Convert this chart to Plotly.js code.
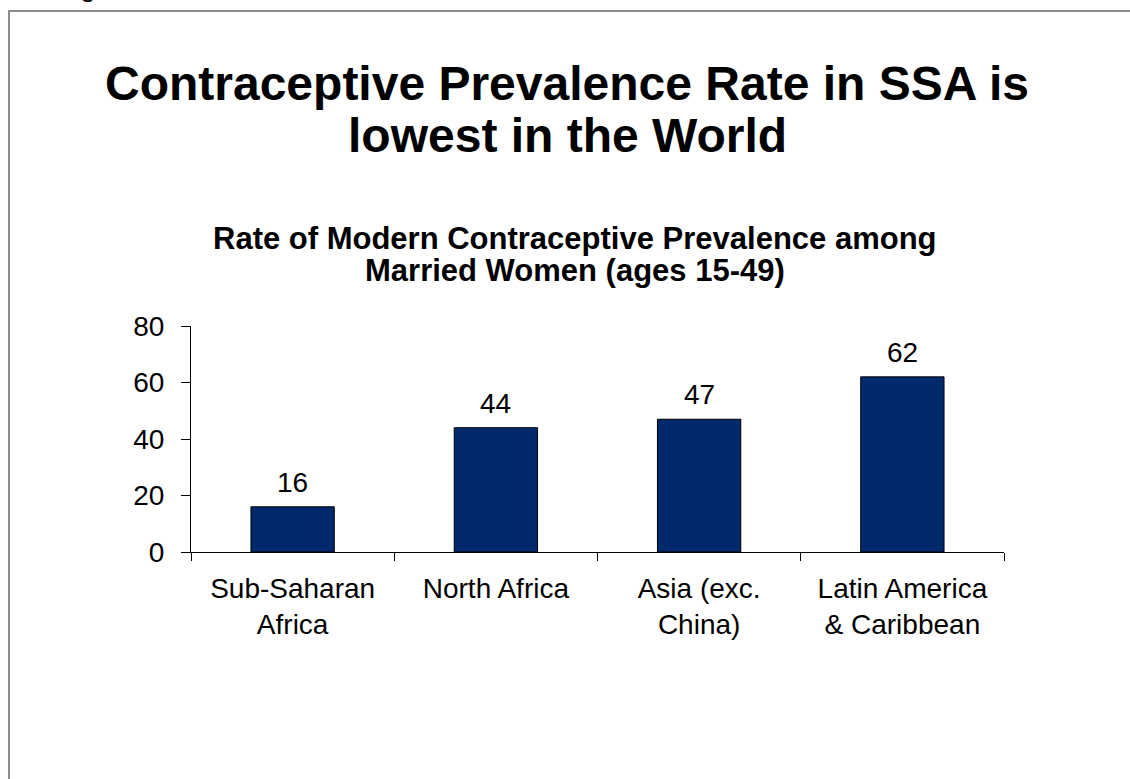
<!DOCTYPE html>
<html>
<head>
<meta charset="utf-8">
<script src="https://cdn.plot.ly/plotly-3.0.1.min.js"></script>
<style>
  html, body { margin: 0; padding: 0; background: #ffffff; }
  #chart { width: 1130px; height: 779px; }
</style>
</head>
<body>
<div id="chart"></div>
<script>
// Chart data
const regions = ['Sub-Saharan<br>Africa', 'North Africa', 'Asia (exc.<br>China)', 'Latin America<br>& Caribbean'];
const prevalence = [16, 44, 47, 62];
const yTicks = [0, 20, 40, 60, 80];
const titleLines = ['Contraceptive Prevalence Rate in SSA is', 'lowest in the World'];
const subtitleLines = ['Rate of Modern Contraceptive Prevalence among', 'Married Women (ages 15-49)'];

// Page geometry (pixels) and helpers converting pixel positions to paper coordinates
const W = 1130, H = 779;
const M = { l: 191, r: 126, t: 326, b: 227 };
const plotW = W - M.l - M.r, plotH = H - M.t - M.b;
const px = x => (x - M.l) / plotW;
const py = y => (H - M.b - y) / plotH;

const FONT = 'Liberation Sans, Arial, Helvetica, sans-serif';
const ASC = 0.905, DESC = 0.212; // font ascent / descent in em

// Centre of a single-line text box whose baseline sits at y (pixels)
const centreFromBaseline = (baseline, size) => baseline - (ASC - DESC) / 2 * size;

const annotations = [];

// Main heading, one annotation per line
const titleBaselines = [100, 152];
titleLines.forEach((line, i) => {
  annotations.push({
    text: '<b>' + line + '</b>', xref: 'paper', yref: 'paper',
    x: px(567), y: py(centreFromBaseline(titleBaselines[i], 48)),
    xanchor: 'center', yanchor: 'middle', showarrow: false, borderpad: 0,
    font: { family: FONT, size: 48, color: '#000000' }
  });
});

// Chart heading
const subBaselines = [249.5, 281.5];
subtitleLines.forEach((line, i) => {
  annotations.push({
    text: '<b>' + line + '</b>', xref: 'paper', yref: 'paper',
    x: px(575), y: py(centreFromBaseline(subBaselines[i], 31)),
    xanchor: 'center', yanchor: 'middle', showarrow: false, borderpad: 0,
    font: { family: FONT, size: 31, color: '#000000' }
  });
});

// Value labels above each bar
regions.forEach((r, i) => {
  annotations.push({
    text: String(prevalence[i]), xref: 'x', yref: 'y',
    x: r, y: prevalence[i], yanchor: 'bottom', yshift: 8,
    showarrow: false, borderpad: 0,
    font: { family: FONT, size: 28, color: '#000000' }
  });
});

// Clipped descender of a line above the frame
annotations.push({
  text: 'g', xref: 'paper', yref: 'paper', x: px(87.5), y: py(3),
  xanchor: 'center', yanchor: 'bottom', showarrow: false, borderpad: 0,
  font: { family: FONT, size: 28, color: '#000000' }
});

const trace = {
  type: 'bar',
  x: regions,
  y: prevalence,
  width: 0.41,
  marker: { color: '#002A6B', line: { color: '#000000', width: 1 } },
  hoverinfo: 'none'
};

const layout = {
  width: W, height: H,
  margin: M,
  paper_bgcolor: '#ffffff', plot_bgcolor: '#ffffff',
  showlegend: false,
  font: { family: FONT, color: '#000000' },
  xaxis: {
    type: 'category',
    tickson: 'boundaries',
    ticks: 'outside', ticklen: 8, tickwidth: 1, tickcolor: '#000000',
    ticklabelstandoff: 11,
    showline: true, linecolor: '#000000', linewidth: 1,
    showgrid: false, zeroline: false,
    tickfont: { family: FONT, size: 28, color: '#000000' },
    fixedrange: true
  },
  yaxis: {
    range: [0, 80],
    tickvals: yTicks, ticktext: yTicks.map(String),
    ticks: 'outside', ticklen: 9, tickwidth: 1, tickcolor: '#000000',
    ticklabelstandoff: 11,
    showline: true, linecolor: '#000000', linewidth: 1,
    showgrid: false, zeroline: false,
    tickfont: { family: FONT, size: 28, color: '#000000' },
    fixedrange: true
  },
  shapes: [{
    type: 'rect', xref: 'paper', yref: 'paper',
    x0: px(9), x1: px(1200), y0: py(11), y1: py(900),
    line: { color: '#8c8c8c', width: 2 }, fillcolor: 'rgba(0,0,0,0)', layer: 'below'
  }],
  annotations: annotations
};

Plotly.newPlot('chart', [trace], layout, { displayModeBar: false, staticPlot: true });
</script>
</body>
</html>
